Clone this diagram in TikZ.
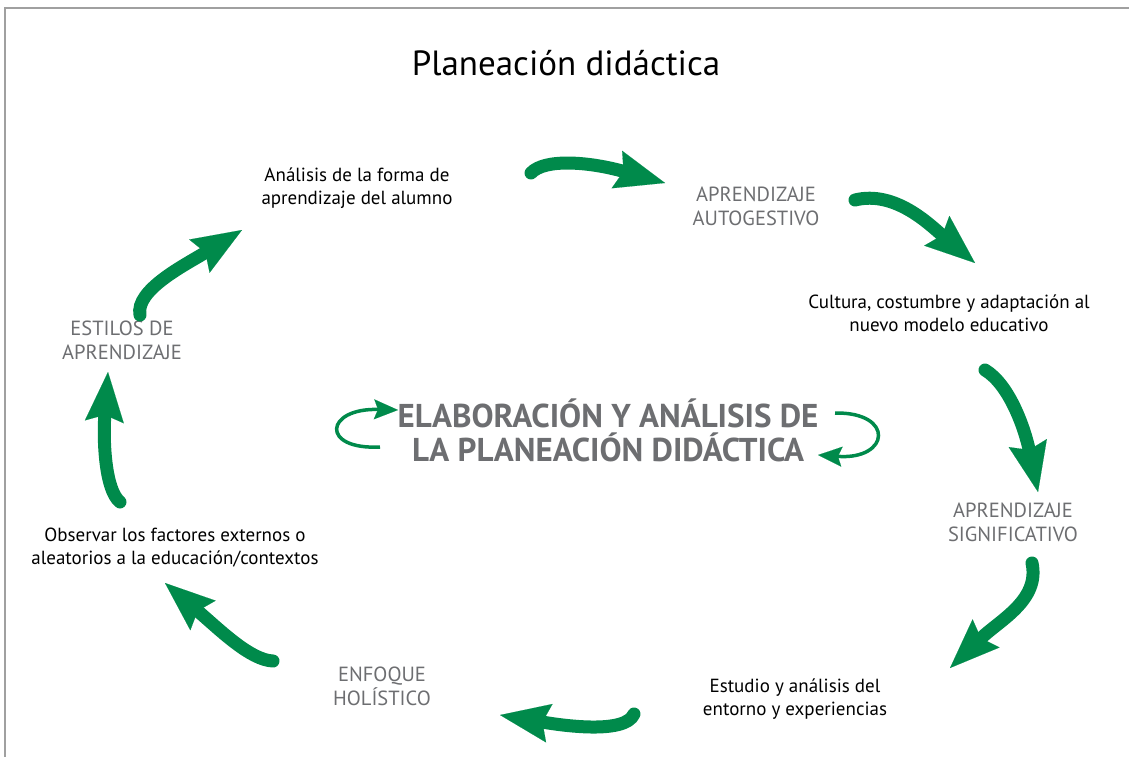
\documentclass[tikz,border=0pt]{standalone}
\usepackage{fontspec}
\setmainfont{PT Sans}
\usetikzlibrary{arrows.meta}
\definecolor{dgreen}{RGB}{0,138,75}
\definecolor{lgray}{RGB}{109,110,113}
\definecolor{framegray}{RGB}{160,160,160}
\begin{document}
\begin{tikzpicture}[x=1pt,y=-1pt,
  blk/.style={align=center, inner sep=0pt, text=black, font=\fontsize{19}{23}\selectfont},
  gry/.style={align=center, inner sep=0pt, text=lgray, font=\fontsize{20.5}{24}\selectfont},
  bigarrow/.style={draw=dgreen, line width=13pt, line cap=round,
     -{Stealth[length=50pt,width=39pt,inset=7pt,line width=0.1pt]}},
  smallarrow/.style={draw=dgreen, line width=3.5pt,
     -{Stealth[length=24pt,width=20pt,inset=4pt,line width=0.1pt]}}]
\useasboundingbox (0,0) rectangle (1129,757);
\draw[framegray, line width=2pt] (5,757) -- (5,8) -- (1129,8);

\node[inner sep=0pt, font=\fontsize{35}{40}\selectfont] (title) at (566,63) {Planeación didáctica};

\node[blk] (t1) at (357,188) {Análisis de la forma de\\aprendizaje del alumno};
\node[gry] (t2) at (756,206) {APRENDIZAJE\\AUTOGESTIVO};
\node[blk] (t3) at (949,313) {Cultura, costumbre y adaptación al\\nuevo modelo educativo};
\node[gry] (t4) at (1013,522) {APRENDIZAJE\\SIGNIFICATIVO};
\node[blk] (t5) at (795,699) {Estudio y análisis del\\entorno y experiencias};
\node[gry] (t6) at (382,686) {ENFOQUE\\HOLÍSTICO};
\node[blk] (t7) at (175,548) {Observar los factores externos o\\aleatorios a la educación/contextos};
\node[gry] (t8) at (122,340) {ESTILOS DE\\APRENDIZAJE};

\node[align=center, inner sep=0pt, text=lgray, font=\bfseries\fontsize{33}{34}\selectfont] (center) at (608,430) {ELABORACIÓN Y ANÁLISIS DE\\LA PLANEACIÓN DIDÁCTICA};

% big arrows
\coordinate (a1s) at (531,173); \coordinate (a1e) at (665,183);
\draw[bigarrow] (a1s) .. controls (545,158) and (590,162) .. (a1e);
\coordinate (a2s) at (855,200); \coordinate (a2e) at (975,263);
\draw[bigarrow] (a2s) .. controls (895,190) and (930,225) .. (a2e);
\coordinate (a3s) at (985,370); \coordinate (a3e) at (1038,492);
\draw[bigarrow] (a3s) .. controls (1010,385) and (1025,430) .. (a3e);
\coordinate (a4s) at (1032,563); \coordinate (a4e) at (950,668);
\draw[bigarrow] (a4s) .. controls (1040,600) and (1000,620) .. (a4e);
\coordinate (a5s) at (634,714); \coordinate (a5e) at (500,715);
\draw[bigarrow] (a5s) .. controls (625,735) and (560,725) .. (a5e);
\coordinate (a6s) at (273,661); \coordinate (a6e) at (165,583);
\draw[bigarrow] (a6s) .. controls (250,660) and (220,630) .. (a6e);
\coordinate (a7s) at (120,502); \coordinate (a7e) at (108,372);
\draw[bigarrow] (a7s) .. controls (105,490) and (103,440) .. (a7e);
\coordinate (a8s) at (140,315); \coordinate (a8e) at (242,230);
\draw[bigarrow] (a8s) .. controls (135,290) and (185,265) .. (a8e);

% small arrows around center
\coordinate (s1s) at (380,447); \coordinate (s1e) at (398,410);
\draw[smallarrow] (s1s) .. controls (320,450) and (325,408) .. (s1e);
\coordinate (s2s) at (835,413); \coordinate (s2e) at (818,455);
\draw[smallarrow] (s2s) .. controls (895,412) and (890,460) .. (s2e);
\end{tikzpicture}
\end{document}
